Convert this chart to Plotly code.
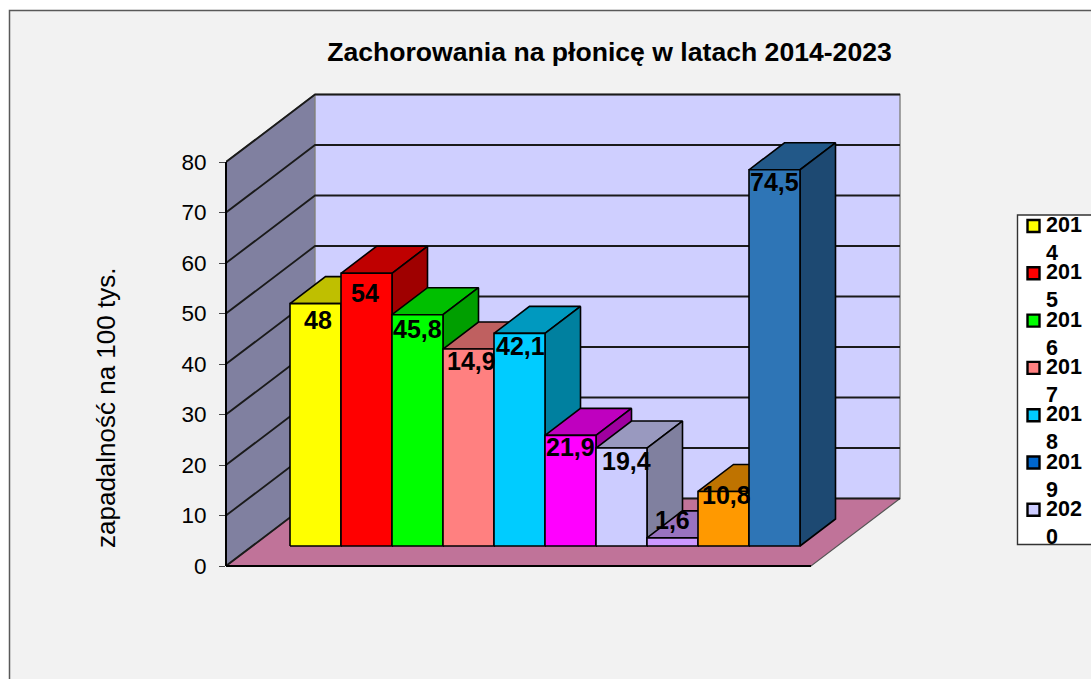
import plotly.graph_objects as go

TITLE = "Zachorowania na płonicę w latach 2014-2023"
Y_TITLE = "zapadalność na 100 tys."
YEARS = ["2014", "2015", "2016", "2017", "2018", "2019", "2020", "2021", "2022", "2023"]
VALUES = [48, 54, 45.8, 39, 42.1, 21.9, 19.4, 1.6, 10.8, 74.5]
VALUE_LABELS = ["48", "54", "45,8", "14,9", "42,1", "21,9", "19,4", "1,6", "10,8", "74,5"]
BAR_COLORS = ["#FFFF00", "#FF0000", "#00FF00", "#FF8080", "#00CCFF",
              "#FF00FF", "#CCCCFF", "#CC99FF", "#FF9900", "#2E75B6"]
LEGEND_YEARS = ["2014", "2015", "2016", "2017", "2018", "2019", "2020"]
LEGEND_COLORS = ["#FFFF00", "#FF0000", "#00FF00", "#FF8080", "#00CCFF", "#0066CC", "#CCCCFF"]
TICKS = [0, 10, 20, 30, 40, 50, 60, 70, 80]

# --- layout / projection constants ---
W, H = 1091, 679
PX_PER_VALUE = 5.05
PX_PER_CAT = 51.0
ZERO_PX = 566.0
CAT0_PX = 315.5
AXIS_PX = 226.0
FONT = "Liberation Sans"

XMIN = (AXIS_PX - CAT0_PX) / PX_PER_CAT
XMAX = (W - CAT0_PX) / PX_PER_CAT
YMIN = (ZERO_PX - H) / PX_PER_VALUE
YMAX = ZERO_PX / PX_PER_VALUE

WALL_DX, WALL_DY = 89 / PX_PER_CAT, 67.5 / PX_PER_VALUE
FLOOR_W = 585 / PX_PER_CAT
BAR_BASE = 20 / PX_PER_VALUE
BAR_DX, BAR_DY = 35.5 / PX_PER_CAT, 27 / PX_PER_VALUE
TOP_V = max(TICKS)

LABEL_XSHIFT = [2, -2, 0, 3, 1, 0, 5, 0, 3, 0]
LABEL_YSHIFT = [16, 20, 14, 12, 13, 12, 13, -18, 4, 12]


def shade(col, f):
    r, g, b = (int(col[i:i + 2], 16) for i in (1, 3, 5))
    return f"rgb({round(r * f)},{round(g * f)},{round(b * f)})"


def poly(xs, ys, fill, line="#000000", width=1.6):
    return go.Scatter(x=xs + xs[:1], y=ys + ys[:1], mode="lines", fill="toself",
                      fillcolor=fill, line=dict(color=line, width=width),
                      hoverinfo="skip", showlegend=False)


fig = go.Figure()

# walls and floor
x0 = XMIN
x1 = XMIN + WALL_DX
fig.add_trace(poly([x0, x1, x1, x0], [TOP_V, TOP_V + WALL_DY, WALL_DY, 0], "#8080A0", "#666666", 1.5))
fig.add_trace(poly([x1, x1 + FLOOR_W, x1 + FLOOR_W, x1],
                   [TOP_V + WALL_DY, TOP_V + WALL_DY, WALL_DY, WALL_DY], "#CFCFFF", "#888888", 1.5))
fig.add_trace(poly([x0, x1, x1 + FLOOR_W, x0 + FLOOR_W], [0, WALL_DY, WALL_DY, 0], "#C07399", "#555555", 1.2))

# gridlines
gx, gy = [], []
for t in TICKS:
    gx += [x0, x1, x1 + FLOOR_W, None]
    gy += [t, t + WALL_DY, t + WALL_DY, None]
fig.add_trace(go.Scatter(x=gx, y=gy, mode="lines", line=dict(color="#1A1A1A", width=1.8),
                         hoverinfo="skip", showlegend=False))
fig.add_trace(go.Scatter(x=[x0, x0 + FLOOR_W], y=[0, 0], mode="lines", line=dict(color="#000000", width=2.2),
                         hoverinfo="skip", showlegend=False))

# bars, painted left to right
for i, (year, v, c) in enumerate(zip(YEARS, VALUES, BAR_COLORS)):
    l, r = i - 0.5, i + 0.5
    b, t = BAR_BASE, BAR_BASE + v
    fig.add_trace(poly([l, r, r + BAR_DX, l + BAR_DX], [t, t, t + BAR_DY, t + BAR_DY], shade(c, 0.75)))
    fig.add_trace(poly([r, r + BAR_DX, r + BAR_DX, r], [b, b + BAR_DY, t + BAR_DY, t], shade(c, 0.625)))
    fig.add_trace(poly([l, r, r, l], [b, b, t, t], c))

annotations = []
for i, (v, lab) in enumerate(zip(VALUES, VALUE_LABELS)):
    annotations.append(dict(x=i, y=BAR_BASE + v, text=f"<b>{lab}</b>", showarrow=False,
                            xanchor="center", yanchor="middle",
                            xshift=LABEL_XSHIFT[i], yshift=-LABEL_YSHIFT[i],
                            font=dict(family=FONT, size=25, color="#000000")))

annotations.append(dict(xref="paper", yref="paper", x=106 / W, y=1 - 408 / H, text=Y_TITLE,
                        textangle=-90, showarrow=False, xanchor="center", yanchor="middle",
                        font=dict(family=FONT, size=26, color="#000000")))

# frame and legend box
shapes = [
    dict(type="rect", xref="paper", yref="paper", layer="below",
         x0=9.5 / W, x1=1.02, y0=-0.02, y1=1 - 10.5 / H,
         fillcolor="#F2F2F2", line=dict(color="#595959", width=1.5)),
    dict(type="rect", xref="paper", yref="paper", layer="below",
         x0=1017.5 / W, x1=1.02, y0=1 - 544.5 / H, y1=1 - 215 / H,
         fillcolor="#FFFFFF", line=dict(color="#333333", width=1.4)),
]
for k, (yr, col) in enumerate(zip(LEGEND_YEARS, LEGEND_COLORS)):
    cy = 225 + 47.3 * k
    shapes.append(dict(type="rect", xref="paper", yref="paper",
                       x0=1027.5 / W, x1=1039.5 / W, y0=1 - (cy + 7) / H, y1=1 - (cy - 5) / H,
                       fillcolor=col, line=dict(color="#000000", width=2.4)))
    annotations.append(dict(xref="paper", yref="paper", x=1043.5 / W, y=1 - (cy - 14) / H,
                            text=f"<b>{yr[:3]}<br>{yr[3:]}</b>", showarrow=False, align="left",
                            xanchor="left", yanchor="top",
                            font=dict(family=FONT, size=21.5, color="#000000")))

fig.update_layout(
    width=W, height=H, autosize=False,
    margin=dict(l=0, r=0, t=0, b=0, pad=0),
    paper_bgcolor="#FFFFFF", plot_bgcolor="rgba(0,0,0,0)",
    showlegend=False, hovermode=False,
    title=dict(text=f"<b>{TITLE}</b>", xref="paper", yref="paper", x=609.5 / W, xanchor="center",
               y=1 - 52 / H, yanchor="middle", font=dict(family=FONT, size=26.6, color="#000000")),
    xaxis=dict(domain=[AXIS_PX / W, 1], range=[XMIN, XMAX], visible=False, fixedrange=True),
    yaxis=dict(domain=[0, 1], range=[YMIN, YMAX], tickvals=TICKS, ticktext=[str(t) for t in TICKS],
               ticks="outside", ticklen=6, tickwidth=1.2, tickcolor="#444444",
               showgrid=False, zeroline=False, showline=False, ticklabelstandoff=8,
               tickfont=dict(family=FONT, size=22.5, color="#000000"), fixedrange=True),
    shapes=shapes, annotations=annotations,
)
fig.add_shape(type="line", xref="paper", yref="y", x0=AXIS_PX / W, x1=AXIS_PX / W, y0=0, y1=TOP_V,
              line=dict(color="#000000", width=2))

fig.write_html("out.html", config={"displayModeBar": False},
               post_script="document.body.style.margin='0';document.documentElement.style.overflow='hidden';")
